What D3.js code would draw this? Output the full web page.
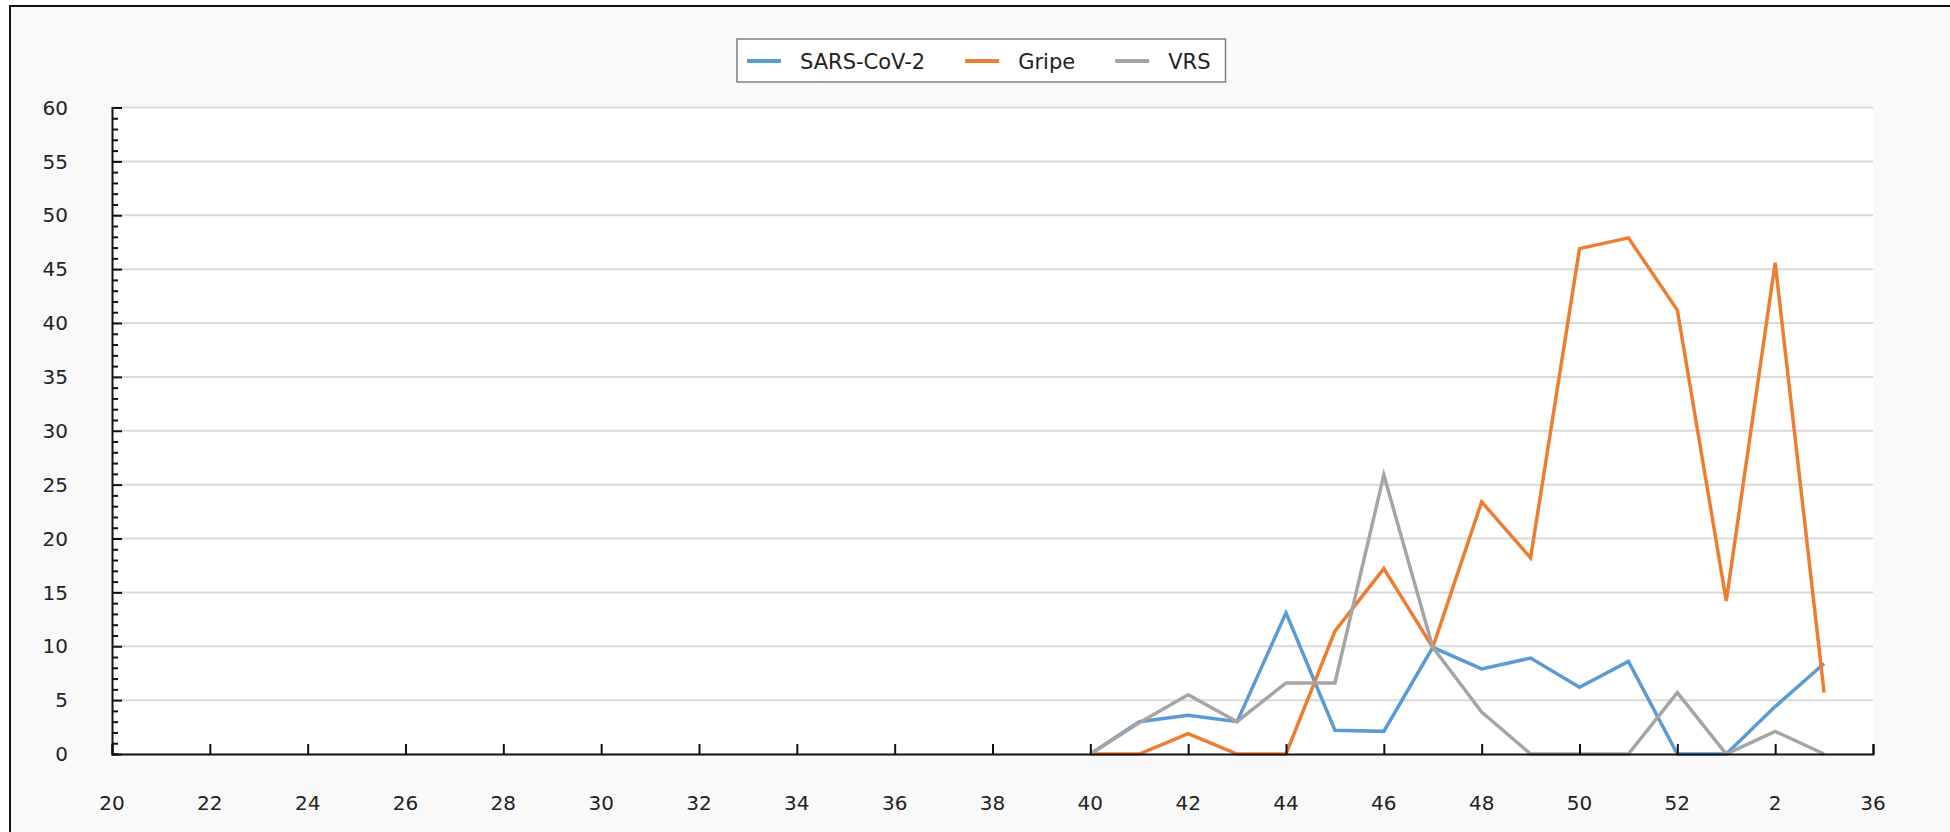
<!DOCTYPE html>
<html>
<head>
<meta charset="utf-8">
<script src="https://cdn.jsdelivr.net/npm/d3@7"></script>
<style>
  body { margin: 0; background: #ffffff; }
  svg text { font-family: "DejaVu Sans", sans-serif; fill: #222; }
</style>
</head>
<body>
<div id="chart"></div>
<script>
// semanas epidemiológicas (20 a 52, depois 1 a 3)
var weeks = [20, 21, 22, 23, 24, 25, 26, 27, 28, 29, 30, 31, 32, 33, 34, 35, 36, 37, 38, 39,
             40, 41, 42, 43, 44, 45, 46, 47, 48, 49, 50, 51, 52, 1, 2, 3];

var xTickLabels = ["20", "22", "24", "26", "28", "30", "32", "34", "36", "38",
                   "40", "42", "44", "46", "48", "50", "52", "2", "36"];

var yTicks = [0, 5, 10, 15, 20, 25, 30, 35, 40, 45, 50, 55, 60];

var seriesNames = ["SARS-CoV-2", "Gripe", "VRS"];
var seriesColors = ["#5b9bd5", "#ed7d31", "#a5a5a5"];

var sarsCov2 = [null, null, null, null, null, null, null, null, null, null,
                null, null, null, null, null, null, null, null, null, null,
                0, 3.0, 3.6, 3.0, 13.1, 2.2, 2.1, 9.9, 7.9, 8.9, 6.2, 8.6, 0, 0, 4.4, 8.4];

var gripe = [null, null, null, null, null, null, null, null, null, null,
             null, null, null, null, null, null, null, null, null, null,
             0, 0, 1.9, 0, 0, 11.4, 17.2, 9.9, 23.4, 18.2, 46.9, 47.9, 41.2, 14.2, 45.6, 5.7];

var vrs = [null, null, null, null, null, null, null, null, null, null,
           null, null, null, null, null, null, null, null, null, null,
           0, 2.9, 5.5, 3.0, 6.6, 6.6, 25.9, 9.9, 3.9, 0, 0, 0, 5.7, 0, 2.1, 0];

var seriesData = [sarsCov2, gripe, vrs];

var width = 1950, height = 832;
var margin = {top: 107.5, left: 112, right: 77, bottom: 78};

var svg = d3.select("#chart")
    .append("svg")
    .attr("width", width)
    .attr("height", height);

// fundo e moldura (só topo e esquerda aparecem)
svg.append("rect")
    .attr("x", 10).attr("y", 6)
    .attr("width", width + 20).attr("height", height + 20)
    .attr("fill", "#f9f9f9")
    .attr("stroke", "#111")
    .attr("stroke-width", 2);

var x = d3.scaleLinear()
    .domain([0, weeks.length])
    .range([margin.left, width - margin.right]);

var y = d3.scaleLinear()
    .domain([0, 60])
    .range([height - margin.bottom, margin.top]);

// área do gráfico
svg.append("rect")
    .attr("x", x(0)).attr("y", y(60))
    .attr("width", x(weeks.length) - x(0))
    .attr("height", y(0) - y(60))
    .attr("fill", "#ffffff");

// grade horizontal
svg.append("g")
    .selectAll("line")
    .data(yTicks.filter(function(d){ return d > 0; }))
    .enter().append("line")
    .attr("x1", x(0)).attr("x2", x(weeks.length))
    .attr("y1", function(d){ return y(d); })
    .attr("y2", function(d){ return y(d); })
    .attr("stroke", "#d9d9d9")
    .attr("stroke-width", 2);

// linhas das séries
var line = d3.line()
    .defined(function(d){ return d !== null; })
    .x(function(d, i){ return x(i); })
    .y(function(d){ return y(d); });

svg.append("g")
    .selectAll("path")
    .data(seriesData)
    .enter().append("path")
    .attr("d", line)
    .attr("fill", "none")
    .attr("stroke", function(d, i){ return seriesColors[i]; })
    .attr("stroke-width", 3.5)
    .attr("stroke-linejoin", "miter");

// eixo Y: ticks maiores a cada 5, menores a cada 1, para dentro
var yAxis = svg.append("g")
    .attr("transform", "translate(" + x(0) + ",0)")
    .call(d3.axisRight(y).tickValues(d3.range(0, 61, 1)).tickSize(6).tickFormat(""));

yAxis.selectAll(".tick line")
    .attr("stroke", "#111")
    .attr("stroke-width", 2)
    .attr("x2", function(d){ return d % 5 === 0 ? 10 : 6; });
yAxis.select(".domain").attr("stroke", "#111").attr("stroke-width", 2);

svg.append("g")
    .selectAll("text")
    .data(yTicks)
    .enter().append("text")
    .attr("x", 68)
    .attr("y", function(d){ return y(d); })
    .attr("dy", "0.36em")
    .attr("text-anchor", "end")
    .style("font-size", "20px")
    .text(function(d){ return d; });

// eixo X: ticks a cada 2 semanas, para cima
var xTickPos = xTickLabels.map(function(d, i){ return i * 2; });

var xAxis = svg.append("g")
    .attr("transform", "translate(0," + y(0) + ")")
    .call(d3.axisTop(x).tickValues(xTickPos).tickSize(10).tickFormat(""));

xAxis.selectAll(".tick line").attr("stroke", "#111").attr("stroke-width", 2);
xAxis.select(".domain").attr("stroke", "#111").attr("stroke-width", 2);

svg.append("g")
    .selectAll("text")
    .data(xTickLabels)
    .enter().append("text")
    .attr("x", function(d, i){ return x(xTickPos[i]); })
    .attr("y", 803)
    .attr("dy", "0.36em")
    .attr("text-anchor", "middle")
    .style("font-size", "20px")
    .text(function(d){ return d; });

// legenda
var legend = svg.append("g");
var legendBox = legend.append("rect")
    .attr("fill", "#ffffff")
    .attr("stroke", "#808080")
    .attr("stroke-width", 1.5);

var cursor = 0;
seriesNames.forEach(function(name, i){
    var t = legend.append("text")
        .attr("x", cursor + 63)
        .attr("y", 61)
        .attr("dy", "0.36em")
        .style("font-size", "21px")
        .text(name);
    legend.append("line")
        .attr("x1", cursor + 10).attr("x2", cursor + 44)
        .attr("y1", 61).attr("y2", 61)
        .attr("stroke", seriesColors[i])
        .attr("stroke-width", 4);
    cursor += 63 + t.node().getComputedTextLength() + 30;
});
var legendW = cursor - 30 + 15;
legendBox.attr("x", 0).attr("y", 39).attr("width", legendW).attr("height", 43);
legend.attr("transform", "translate(" + Math.round(981 - legendW / 2) + ",0)");
</script>
</body>
</html>
